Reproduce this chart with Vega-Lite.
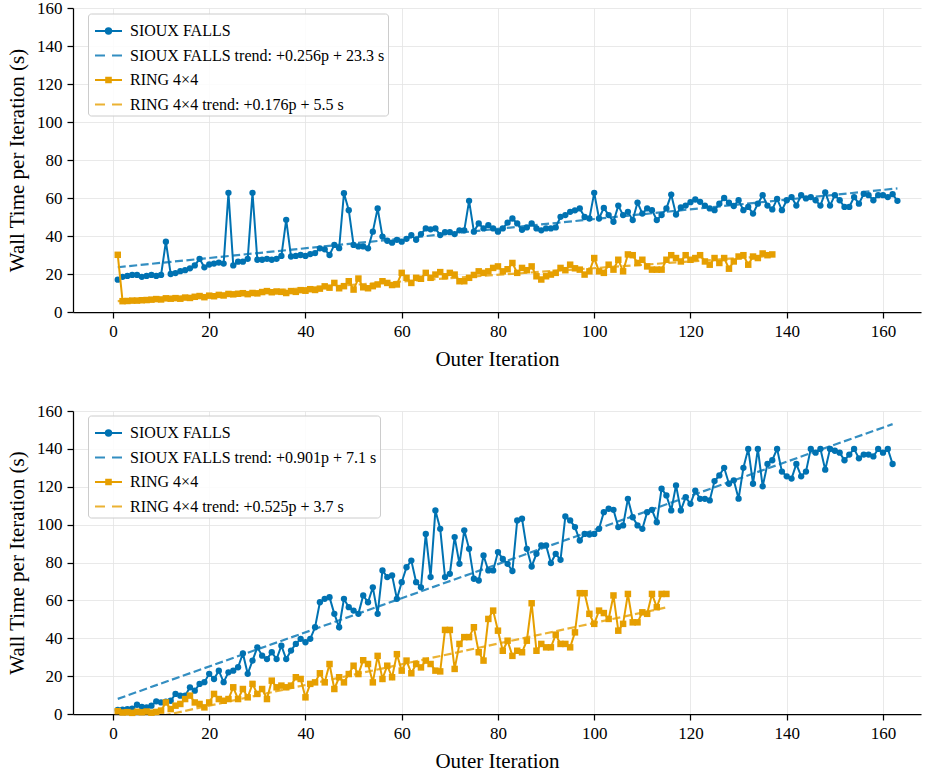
{
  "$schema": "https://vega.github.io/schema/vega-lite/v6.json",
  "padding": {"left": 6, "top": -1, "right": 10, "bottom": 2},
  "config": {
    "font": "'Liberation Serif', serif",
    "view": {"stroke": null},
    "text": {"font": "'Liberation Serif', serif"},
    "axis": {
      "labelFont": "'Liberation Serif', serif", "labelFontSize": 17, "labelColor": "#000000",
      "titleFont": "'Liberation Serif', serif", "titleFontSize": 21, "titleFontWeight": "normal", "titleColor": "#000000",
      "domainColor": "#000000", "domainWidth": 1.25, "tickColor": "#000000", "tickSize": 6, "tickWidth": 1.25,
      "gridColor": "#e3e3e3", "gridWidth": 0.8, "labelPadding": 5
    },
    "axisX": {"titlePadding": 9},
    "axisY": {"titlePadding": 9},
    "legend": {"labelFont": "'Liberation Serif', serif", "labelFontSize": 16, "labelColor": "#000000"}
  },
  "datasets": {
    "topSioux": [
      {"iter":1,"time":17},{"iter":2,"time":18.5},{"iter":3,"time":19},{"iter":4,"time":19.5},{"iter":5,"time":19.5},{"iter":6,"time":18.5},{"iter":7,"time":19},{"iter":8,"time":19.5},{"iter":9,"time":19},{"iter":10,"time":19.5},
      {"iter":11,"time":37},{"iter":12,"time":20},{"iter":13,"time":20.5},{"iter":14,"time":21.5},{"iter":15,"time":22},{"iter":16,"time":23},{"iter":17,"time":24.5},{"iter":18,"time":28},{"iter":19,"time":23.5},{"iter":20,"time":25},
      {"iter":21,"time":25.5},{"iter":22,"time":26},{"iter":23,"time":25.5},{"iter":24,"time":62.7},{"iter":25,"time":24.5},{"iter":26,"time":26.5},{"iter":27,"time":26.5},{"iter":28,"time":28},{"iter":29,"time":62.7},{"iter":30,"time":27.5},
      {"iter":31,"time":27.5},{"iter":32,"time":28},{"iter":33,"time":27.5},{"iter":34,"time":28},{"iter":35,"time":29.5},{"iter":36,"time":48.5},{"iter":37,"time":29.2},{"iter":38,"time":29.5},{"iter":39,"time":30},{"iter":40,"time":29.5},
      {"iter":41,"time":30.5},{"iter":42,"time":31},{"iter":43,"time":33.5},{"iter":44,"time":33},{"iter":45,"time":30},{"iter":46,"time":35.3},{"iter":47,"time":33.6},{"iter":48,"time":62.5},{"iter":49,"time":53.6},{"iter":50,"time":35.3},
      {"iter":51,"time":34.5},{"iter":52,"time":34.5},{"iter":53,"time":33.5},{"iter":54,"time":42.3},{"iter":55,"time":54.5},{"iter":56,"time":39.7},{"iter":57,"time":37.5},{"iter":58,"time":36.5},{"iter":59,"time":38},{"iter":60,"time":37},
      {"iter":61,"time":38.5},{"iter":62,"time":40.5},{"iter":63,"time":38},{"iter":64,"time":41},{"iter":65,"time":44},{"iter":66,"time":43.5},{"iter":67,"time":44},{"iter":68,"time":40.5},{"iter":69,"time":42},{"iter":70,"time":42},
      {"iter":71,"time":41},{"iter":72,"time":43},{"iter":73,"time":43},{"iter":74,"time":58.5},{"iter":75,"time":42.3},{"iter":76,"time":46.6},{"iter":77,"time":44},{"iter":78,"time":45.7},{"iter":79,"time":44},{"iter":80,"time":42.3},
      {"iter":81,"time":44},{"iter":82,"time":47},{"iter":83,"time":49.2},{"iter":84,"time":46.6},{"iter":85,"time":43.3},{"iter":86,"time":44.5},{"iter":87,"time":46.6},{"iter":88,"time":44},{"iter":89,"time":43},{"iter":90,"time":44},
      {"iter":91,"time":44},{"iter":92,"time":44.5},{"iter":93,"time":50.1},{"iter":94,"time":51},{"iter":95,"time":52.7},{"iter":96,"time":53.5},{"iter":97,"time":54.5},{"iter":98,"time":50},{"iter":99,"time":49.2},{"iter":100,"time":62.7},
      {"iter":101,"time":49.2},{"iter":102,"time":54.8},{"iter":103,"time":51},{"iter":104,"time":47.5},{"iter":105,"time":56},{"iter":106,"time":51},{"iter":107,"time":52.7},{"iter":108,"time":48.4},{"iter":109,"time":57.6},{"iter":110,"time":51.8},
      {"iter":111,"time":54.5},{"iter":112,"time":53.6},{"iter":113,"time":48.4},{"iter":114,"time":51},{"iter":115,"time":54.5},{"iter":116,"time":61.8},{"iter":117,"time":51.3},{"iter":118,"time":55},{"iter":119,"time":56},{"iter":120,"time":57.8},
      {"iter":121,"time":59.2},{"iter":122,"time":58},{"iter":123,"time":56},{"iter":124,"time":54.5},{"iter":125,"time":53.6},{"iter":126,"time":57},{"iter":127,"time":60},{"iter":128,"time":57.5},{"iter":129,"time":55.8},{"iter":130,"time":58.8},
      {"iter":131,"time":53.6},{"iter":132,"time":55.3},{"iter":133,"time":51.8},{"iter":134,"time":57},{"iter":135,"time":61.5},{"iter":136,"time":56},{"iter":137,"time":54},{"iter":138,"time":59.5},{"iter":139,"time":53.6},{"iter":140,"time":58.8},
      {"iter":141,"time":60.5},{"iter":142,"time":56},{"iter":143,"time":61.5},{"iter":144,"time":59.8},{"iter":145,"time":60.5},{"iter":146,"time":58.8},{"iter":147,"time":56},{"iter":148,"time":63},{"iter":149,"time":56},{"iter":150,"time":61.5},
      {"iter":151,"time":58.8},{"iter":152,"time":55.3},{"iter":153,"time":55.3},{"iter":154,"time":60.5},{"iter":155,"time":57},{"iter":156,"time":62.2},{"iter":157,"time":61.5},{"iter":158,"time":58.8},{"iter":159,"time":61.5},{"iter":160,"time":61.5},
      {"iter":161,"time":60.5},{"iter":162,"time":62},{"iter":163,"time":58.5}
    ],
    "topRing": [
      {"iter":1,"time":30.1},{"iter":2,"time":5.7},{"iter":3,"time":5.8},{"iter":4,"time":6},{"iter":5,"time":6},{"iter":6,"time":6.2},{"iter":7,"time":6.3},{"iter":8,"time":6.5},{"iter":9,"time":6.8},{"iter":10,"time":6.6},
      {"iter":11,"time":7.2},{"iter":12,"time":7},{"iter":13,"time":7.3},{"iter":14,"time":7},{"iter":15,"time":7.6},{"iter":16,"time":7.4},{"iter":17,"time":8},{"iter":18,"time":8.4},{"iter":19,"time":7.8},{"iter":20,"time":8.6},
      {"iter":21,"time":8.3},{"iter":22,"time":9},{"iter":23,"time":8.7},{"iter":24,"time":9.5},{"iter":25,"time":9.3},{"iter":26,"time":9.6},{"iter":27,"time":9.9},{"iter":28,"time":9.4},{"iter":29,"time":10},{"iter":30,"time":9.8},
      {"iter":31,"time":10.5},{"iter":32,"time":11},{"iter":33,"time":10.4},{"iter":34,"time":10.8},{"iter":35,"time":10.6},{"iter":36,"time":10},{"iter":37,"time":11},{"iter":38,"time":10.6},{"iter":39,"time":11.5},{"iter":40,"time":11.2},
      {"iter":41,"time":12},{"iter":42,"time":11.6},{"iter":43,"time":12.3},{"iter":44,"time":13.5},{"iter":45,"time":12.8},{"iter":46,"time":15.3},{"iter":47,"time":12.5},{"iter":48,"time":13.6},{"iter":49,"time":16.2},{"iter":50,"time":11.8},
      {"iter":51,"time":17.6},{"iter":52,"time":13},{"iter":53,"time":12.5},{"iter":54,"time":13.6},{"iter":55,"time":14.5},{"iter":56,"time":16.2},{"iter":57,"time":15.3},{"iter":58,"time":14.2},{"iter":59,"time":14.5},{"iter":60,"time":20.6},
      {"iter":61,"time":18},{"iter":62,"time":15.3},{"iter":63,"time":18},{"iter":64,"time":17.5},{"iter":65,"time":20.6},{"iter":66,"time":18},{"iter":67,"time":19.7},{"iter":68,"time":21},{"iter":69,"time":18.8},{"iter":70,"time":20.6},
      {"iter":71,"time":19.7},{"iter":72,"time":16.2},{"iter":73,"time":16.2},{"iter":74,"time":18},{"iter":75,"time":19.5},{"iter":76,"time":21.4},{"iter":77,"time":20.6},{"iter":78,"time":21.4},{"iter":79,"time":23.2},{"iter":80,"time":24},
      {"iter":81,"time":21.4},{"iter":82,"time":22.5},{"iter":83,"time":25.8},{"iter":84,"time":20.6},{"iter":85,"time":23.2},{"iter":86,"time":22},{"iter":87,"time":24},{"iter":88,"time":18.8},{"iter":89,"time":17.1},{"iter":90,"time":18.8},
      {"iter":91,"time":19.7},{"iter":92,"time":20.6},{"iter":93,"time":23.2},{"iter":94,"time":22},{"iter":95,"time":24.9},{"iter":96,"time":23},{"iter":97,"time":22.3},{"iter":98,"time":19.7},{"iter":99,"time":21.4},{"iter":100,"time":28.4},
      {"iter":101,"time":21.4},{"iter":102,"time":20.6},{"iter":103,"time":24.9},{"iter":104,"time":22.3},{"iter":105,"time":27.5},{"iter":106,"time":21.4},{"iter":107,"time":30.3},{"iter":108,"time":29.9},{"iter":109,"time":25.8},{"iter":110,"time":27.5},
      {"iter":111,"time":24},{"iter":112,"time":22.3},{"iter":113,"time":22.3},{"iter":114,"time":22.3},{"iter":115,"time":27.5},{"iter":116,"time":29.9},{"iter":117,"time":28.4},{"iter":118,"time":26.6},{"iter":119,"time":29.9},{"iter":120,"time":27.5},
      {"iter":121,"time":28.4},{"iter":122,"time":29.9},{"iter":123,"time":26.6},{"iter":124,"time":24.9},{"iter":125,"time":28.4},{"iter":126,"time":25.8},{"iter":127,"time":28.4},{"iter":128,"time":22.8},{"iter":129,"time":26.6},{"iter":130,"time":29.2},
      {"iter":131,"time":29.9},{"iter":132,"time":24.9},{"iter":133,"time":29.2},{"iter":134,"time":28.4},{"iter":135,"time":30.8},{"iter":136,"time":29.9},{"iter":137,"time":30.3}
    ],
    "topTrend": [
      {"series":"SIOUX FALLS trend: +0.256p + 23.3 s","iter":1,"time":23.56},
      {"series":"SIOUX FALLS trend: +0.256p + 23.3 s","iter":163,"time":65.03},
      {"series":"RING 4×4 trend: +0.176p + 5.5 s","iter":1,"time":5.68},
      {"series":"RING 4×4 trend: +0.176p + 5.5 s","iter":137,"time":29.61}
    ],
    "botSioux": [
      {"iter":1,"time":2.1},{"iter":2,"time":2.3},{"iter":3,"time":2.5},{"iter":4,"time":2.8},{"iter":5,"time":4.9},{"iter":6,"time":3.8},{"iter":7,"time":3.5},{"iter":8,"time":4.4},{"iter":9,"time":6.7},{"iter":10,"time":6.1},
      {"iter":11,"time":6.5},{"iter":12,"time":7},{"iter":13,"time":10.6},{"iter":14,"time":9.7},{"iter":15,"time":9.7},{"iter":16,"time":14.1},{"iter":17,"time":12.3},{"iter":18,"time":15.9},{"iter":19,"time":16.8},{"iter":20,"time":21.2},
      {"iter":21,"time":18.5},{"iter":22,"time":22.9},{"iter":23,"time":16.8},{"iter":24,"time":22},{"iter":25,"time":22.9},{"iter":26,"time":24.7},{"iter":27,"time":32},{"iter":28,"time":21.2},{"iter":29,"time":28.2},{"iter":30,"time":35.2},
      {"iter":31,"time":30.8},{"iter":32,"time":29},{"iter":33,"time":32.6},{"iter":34,"time":29},{"iter":35,"time":36.1},{"iter":36,"time":29},{"iter":37,"time":33.5},{"iter":38,"time":37},{"iter":39,"time":39.7},{"iter":40,"time":37.9},
      {"iter":41,"time":39.7},{"iter":42,"time":45.8},{"iter":43,"time":59},{"iter":44,"time":60.8},{"iter":45,"time":61.7},{"iter":46,"time":52.9},{"iter":47,"time":45.8},{"iter":48,"time":60.8},{"iter":49,"time":56.4},{"iter":50,"time":54.6},
      {"iter":51,"time":52.9},{"iter":52,"time":62.6},{"iter":53,"time":59},{"iter":54,"time":66.9},{"iter":55,"time":52.9},{"iter":56,"time":75.8},{"iter":57,"time":72.3},{"iter":58,"time":73.2},{"iter":59,"time":60.8},{"iter":60,"time":69.6},
      {"iter":61,"time":77.5},{"iter":62,"time":81},{"iter":63,"time":69.6},{"iter":64,"time":66.9},{"iter":65,"time":95.1},{"iter":66,"time":72.3},{"iter":67,"time":107.5},{"iter":68,"time":97.8},{"iter":69,"time":72.3},{"iter":70,"time":74},
      {"iter":71,"time":93.4},{"iter":72,"time":79.3},{"iter":73,"time":97},{"iter":74,"time":87.2},{"iter":75,"time":71.4},{"iter":76,"time":70.5},{"iter":77,"time":83.7},{"iter":78,"time":75.8},{"iter":79,"time":75.8},{"iter":80,"time":85.5},
      {"iter":81,"time":81.9},{"iter":82,"time":79.3},{"iter":83,"time":75.5},{"iter":84,"time":102.2},{"iter":85,"time":103.1},{"iter":86,"time":87.2},{"iter":87,"time":77.9},{"iter":88,"time":84.6},{"iter":89,"time":89},{"iter":90,"time":89},
      {"iter":91,"time":79.7},{"iter":92,"time":84.6},{"iter":93,"time":81.4},{"iter":94,"time":104.3},{"iter":95,"time":102.2},{"iter":96,"time":98.7},{"iter":97,"time":91.6},{"iter":98,"time":95.1},{"iter":99,"time":94.8},{"iter":100,"time":95.1},
      {"iter":101,"time":97.8},{"iter":102,"time":106.6},{"iter":103,"time":108.4},{"iter":104,"time":107.8},{"iter":105,"time":98.7},{"iter":106,"time":99.6},{"iter":107,"time":113.6},{"iter":108,"time":103.9},{"iter":109,"time":99.6},{"iter":110,"time":97.8},
      {"iter":111,"time":106.6},{"iter":112,"time":107.8},{"iter":113,"time":101.3},{"iter":114,"time":119},{"iter":115,"time":115.4},{"iter":116,"time":107.5},{"iter":117,"time":120.7},{"iter":118,"time":107.5},{"iter":119,"time":114.5},{"iter":120,"time":111},
      {"iter":121,"time":118},{"iter":122,"time":113.6},{"iter":123,"time":113.6},{"iter":124,"time":112.8},{"iter":125,"time":123},{"iter":126,"time":126},{"iter":127,"time":130},{"iter":128,"time":121.6},{"iter":129,"time":123.4},{"iter":130,"time":113.7},
      {"iter":131,"time":130},{"iter":132,"time":140},{"iter":133,"time":121.6},{"iter":134,"time":140},{"iter":135,"time":120.2},{"iter":136,"time":132},{"iter":137,"time":134},{"iter":138,"time":140},{"iter":139,"time":128},{"iter":140,"time":125.5},
      {"iter":141,"time":124.3},{"iter":142,"time":132},{"iter":143,"time":125.5},{"iter":144,"time":128},{"iter":145,"time":140},{"iter":146,"time":138},{"iter":147,"time":140},{"iter":148,"time":129},{"iter":149,"time":140},{"iter":150,"time":139},
      {"iter":151,"time":138},{"iter":152,"time":134},{"iter":153,"time":137},{"iter":154,"time":140},{"iter":155,"time":135},{"iter":156,"time":137},{"iter":157,"time":137},{"iter":158,"time":136},{"iter":159,"time":140},{"iter":160,"time":138},
      {"iter":161,"time":140},{"iter":162,"time":132}
    ],
    "botRing": [
      {"iter":1,"time":1.5},{"iter":2,"time":0.8},{"iter":3,"time":1},{"iter":4,"time":0.6},{"iter":5,"time":1.2},{"iter":6,"time":0.9},{"iter":7,"time":1.3},{"iter":8,"time":0.7},{"iter":9,"time":1.1},{"iter":10,"time":1.8},
      {"iter":11,"time":6.1},{"iter":12,"time":2.6},{"iter":13,"time":4.4},{"iter":14,"time":5.3},{"iter":15,"time":7.9},{"iter":16,"time":9.7},{"iter":17,"time":6.1},{"iter":18,"time":5.3},{"iter":19,"time":3.5},{"iter":20,"time":6.1},
      {"iter":21,"time":10.6},{"iter":22,"time":7.9},{"iter":23,"time":7},{"iter":24,"time":7.9},{"iter":25,"time":14.1},{"iter":26,"time":7.9},{"iter":27,"time":13.2},{"iter":28,"time":8.8},{"iter":29,"time":15.9},{"iter":30,"time":10.6},
      {"iter":31,"time":13.2},{"iter":32,"time":7.9},{"iter":33,"time":17.6},{"iter":34,"time":14.1},{"iter":35,"time":15},{"iter":36,"time":14.1},{"iter":37,"time":15},{"iter":38,"time":19.4},{"iter":39,"time":18.5},{"iter":40,"time":8.8},
      {"iter":41,"time":15.9},{"iter":42,"time":16.7},{"iter":43,"time":21.5},{"iter":44,"time":16.7},{"iter":45,"time":26.4},{"iter":46,"time":13.2},{"iter":47,"time":19.4},{"iter":48,"time":16.7},{"iter":49,"time":21.1},{"iter":50,"time":25.5},
      {"iter":51,"time":21.1},{"iter":52,"time":28.4},{"iter":53,"time":26.4},{"iter":54,"time":16.7},{"iter":55,"time":30.7},{"iter":56,"time":18.5},{"iter":57,"time":25.5},{"iter":58,"time":19.4},{"iter":59,"time":31.6},{"iter":60,"time":22.9},
      {"iter":61,"time":28.2},{"iter":62,"time":21.5},{"iter":63,"time":26.4},{"iter":64,"time":24.6},{"iter":65,"time":28.2},{"iter":66,"time":26.4},{"iter":67,"time":22.9},{"iter":68,"time":22.5},{"iter":69,"time":44.4},{"iter":70,"time":44.4},
      {"iter":71,"time":23.8},{"iter":72,"time":37},{"iter":73,"time":40.6},{"iter":74,"time":40.6},{"iter":75,"time":45.8},{"iter":76,"time":32.6},{"iter":77,"time":28.2},{"iter":78,"time":50.2},{"iter":79,"time":54.6},{"iter":80,"time":44},
      {"iter":81,"time":33.4},{"iter":82,"time":38.7},{"iter":83,"time":30.7},{"iter":84,"time":33.4},{"iter":85,"time":32.6},{"iter":86,"time":38.7},{"iter":87,"time":58.5},{"iter":88,"time":33.4},{"iter":89,"time":37},{"iter":90,"time":35.2},
      {"iter":91,"time":35.2},{"iter":92,"time":41.9},{"iter":93,"time":37},{"iter":94,"time":37},{"iter":95,"time":35.2},{"iter":96,"time":43.1},{"iter":97,"time":63.8},{"iter":98,"time":63.8},{"iter":99,"time":52.9},{"iter":100,"time":47.6},
      {"iter":101,"time":54.6},{"iter":102,"time":53.3},{"iter":103,"time":50.2},{"iter":104,"time":62.6},{"iter":105,"time":44},{"iter":106,"time":47.6},{"iter":107,"time":63.4},{"iter":108,"time":48.4},{"iter":109,"time":48.4},{"iter":110,"time":53.7},
      {"iter":111,"time":52.9},{"iter":112,"time":63.4},{"iter":113,"time":56.4},{"iter":114,"time":63.4},{"iter":115,"time":63.4}
    ],
    "botTrend": [
      {"series":"SIOUX FALLS trend: +0.901p + 7.1 s","iter":1,"time":8.0},
      {"series":"SIOUX FALLS trend: +0.901p + 7.1 s","iter":162,"time":153.06},
      {"series":"RING 4×4 trend: +0.525p + 3.7 s","iter":1,"time":-6.0},
      {"series":"RING 4×4 trend: +0.525p + 3.7 s","iter":115,"time":56.3}
    ]
  },
  "vconcat": [
    {
      "width": 848,
      "height": 304,
      "encoding": {
        "x": {"field": "iter", "type": "quantitative", "scale": {"domain": [-8.3, 167.9], "nice": false, "zero": false}, "axis": {"values": [0, 20, 40, 60, 80, 100, 120, 140, 160], "title": "Outer Iteration"}},
        "y": {"field": "time", "type": "quantitative", "scale": {"domain": [0, 160], "nice": false}, "axis": {"values": [0, 20, 40, 60, 80, 100, 120, 140, 160], "title": "Wall Time per Iteration (s)"}}
      },
      "layer": [
        {"data": {"name": "topSioux"}, "mark": {"type": "line", "color": "#0072b2", "strokeWidth": 2}},
        {"data": {"name": "topSioux"}, "mark": {"type": "point", "shape": "circle", "filled": true, "color": "#0072b2", "size": 40, "opacity": 1}},
        {"data": {"name": "topTrend"}, "transform": [{"filter": {"field": "series", "equal": "SIOUX FALLS trend: +0.256p + 23.3 s"}}], "mark": {"type": "line", "color": "#0072b2", "opacity": 0.8, "strokeWidth": 2.2, "strokeDash": [8, 3.5], "clip": true}},
        {"data": {"name": "topRing"}, "mark": {"type": "line", "color": "#e69f00", "strokeWidth": 2}},
        {"data": {"name": "topRing"}, "mark": {"type": "point", "shape": "square", "filled": true, "color": "#e69f00", "size": 42, "opacity": 1}},
        {"data": {"name": "topTrend"}, "transform": [{"filter": {"field": "series", "equal": "RING 4×4 trend: +0.176p + 5.5 s"}}], "mark": {"type": "line", "color": "#e69f00", "opacity": 0.8, "strokeWidth": 2.2, "strokeDash": [8, 3.5], "clip": true}},
        {
          "data": {"values": []},
          "mark": {"type": "point", "filled": true, "opacity": 1},
          "encoding": {
            "fill": {"field": "series", "type": "nominal",
              "scale": {"domain": ["SIOUX FALLS", "SIOUX FALLS trend: +0.256p + 23.3 s", "RING 4×4", "RING 4×4 trend: +0.176p + 5.5 s"], "range": ["#0072b2", "#338ec1", "#e69f00", "#ebb233"]},
              "legend": {"title": null, "orient": "none", "legendX": 15, "legendY": 5.5, "fillColor": "rgba(255,255,255,0.85)", "strokeColor": "#cccccc", "cornerRadius": 3, "padding": 3, "symbolOffset": 3, "symbolSize": 729, "symbolStrokeWidth": 2, "labelFont": "'Liberation Serif', serif", "labelFontSize": 16, "labelColor": "#000000", "labelLimit": 0, "labelOffset": 7, "rowPadding": 1.5}},
            "stroke": {"field": "series", "type": "nominal",
              "scale": {"domain": ["SIOUX FALLS", "SIOUX FALLS trend: +0.256p + 23.3 s", "RING 4×4", "RING 4×4 trend: +0.176p + 5.5 s"], "range": ["#0072b2", "#338ec1", "#e69f00", "#ebb233"]},
              "legend": {"title": null, "orient": "none", "legendX": 15, "legendY": 5.5, "fillColor": "rgba(255,255,255,0.85)", "strokeColor": "#cccccc", "cornerRadius": 3, "padding": 3, "symbolOffset": 3, "symbolSize": 729, "symbolStrokeWidth": 2, "labelFont": "'Liberation Serif', serif", "labelFontSize": 16, "labelColor": "#000000", "labelLimit": 0, "labelOffset": 7, "rowPadding": 1.5}},
            "shape": {"field": "series", "type": "nominal",
              "scale": {"domain": ["SIOUX FALLS", "SIOUX FALLS trend: +0.256p + 23.3 s", "RING 4×4", "RING 4×4 trend: +0.176p + 5.5 s"], "range": ["M-1,0H1M0.2,0A0.2,0.2,0,1,1,-0.2,0A0.2,0.2,0,1,1,0.2,0Z", "M-1,0H-0.26M0.26,0H1", "M-1,0H1M-0.17,-0.17H0.17V0.17H-0.17Z", "M-1,0H-0.26M0.26,0H1"]},
              "legend": {"title": null, "orient": "none", "legendX": 15, "legendY": 5.5, "fillColor": "rgba(255,255,255,0.85)", "strokeColor": "#cccccc", "cornerRadius": 3, "padding": 3, "symbolOffset": 3, "symbolSize": 729, "symbolStrokeWidth": 2, "labelFont": "'Liberation Serif', serif", "labelFontSize": 16, "labelColor": "#000000", "labelLimit": 0, "labelOffset": 7, "rowPadding": 1.5}}
          }
        }
      ]
    },
    {
      "width": 848,
      "height": 303,
      "encoding": {
        "x": {"field": "iter", "type": "quantitative", "scale": {"domain": [-8.3, 167.9], "nice": false, "zero": false}, "axis": {"values": [0, 20, 40, 60, 80, 100, 120, 140, 160], "title": "Outer Iteration"}},
        "y": {"field": "time", "type": "quantitative", "scale": {"domain": [0, 160], "nice": false}, "axis": {"values": [0, 20, 40, 60, 80, 100, 120, 140, 160], "title": "Wall Time per Iteration (s)"}}
      },
      "layer": [
        {"data": {"name": "botSioux"}, "mark": {"type": "line", "color": "#0072b2", "strokeWidth": 2}},
        {"data": {"name": "botSioux"}, "mark": {"type": "point", "shape": "circle", "filled": true, "color": "#0072b2", "size": 40, "opacity": 1}},
        {"data": {"name": "botTrend"}, "transform": [{"filter": {"field": "series", "equal": "SIOUX FALLS trend: +0.901p + 7.1 s"}}], "mark": {"type": "line", "color": "#0072b2", "opacity": 0.8, "strokeWidth": 2.2, "strokeDash": [8, 3.5], "clip": true}},
        {"data": {"name": "botRing"}, "mark": {"type": "line", "color": "#e69f00", "strokeWidth": 2}},
        {"data": {"name": "botRing"}, "mark": {"type": "point", "shape": "square", "filled": true, "color": "#e69f00", "size": 42, "opacity": 1}},
        {"data": {"name": "botTrend"}, "transform": [{"filter": {"field": "series", "equal": "RING 4×4 trend: +0.525p + 3.7 s"}}], "mark": {"type": "line", "color": "#e69f00", "opacity": 0.8, "strokeWidth": 2.2, "strokeDash": [8, 3.5], "clip": true}},
        {
          "data": {"values": []},
          "mark": {"type": "point", "filled": true, "opacity": 1},
          "encoding": {
            "fill": {"field": "series", "type": "nominal",
              "scale": {"domain": ["SIOUX FALLS", "SIOUX FALLS trend: +0.901p + 7.1 s", "RING 4×4", "RING 4×4 trend: +0.525p + 3.7 s"], "range": ["#0072b2", "#338ec1", "#e69f00", "#ebb233"]},
              "legend": {"title": null, "orient": "none", "legendX": 15, "legendY": 4.5, "fillColor": "rgba(255,255,255,0.85)", "strokeColor": "#cccccc", "cornerRadius": 3, "padding": 3, "symbolOffset": 3, "symbolSize": 729, "symbolStrokeWidth": 2, "labelFont": "'Liberation Serif', serif", "labelFontSize": 16, "labelColor": "#000000", "labelLimit": 0, "labelOffset": 7, "rowPadding": 1.5}},
            "stroke": {"field": "series", "type": "nominal",
              "scale": {"domain": ["SIOUX FALLS", "SIOUX FALLS trend: +0.901p + 7.1 s", "RING 4×4", "RING 4×4 trend: +0.525p + 3.7 s"], "range": ["#0072b2", "#338ec1", "#e69f00", "#ebb233"]},
              "legend": {"title": null, "orient": "none", "legendX": 15, "legendY": 4.5, "fillColor": "rgba(255,255,255,0.85)", "strokeColor": "#cccccc", "cornerRadius": 3, "padding": 3, "symbolOffset": 3, "symbolSize": 729, "symbolStrokeWidth": 2, "labelFont": "'Liberation Serif', serif", "labelFontSize": 16, "labelColor": "#000000", "labelLimit": 0, "labelOffset": 7, "rowPadding": 1.5}},
            "shape": {"field": "series", "type": "nominal",
              "scale": {"domain": ["SIOUX FALLS", "SIOUX FALLS trend: +0.901p + 7.1 s", "RING 4×4", "RING 4×4 trend: +0.525p + 3.7 s"], "range": ["M-1,0H1M0.2,0A0.2,0.2,0,1,1,-0.2,0A0.2,0.2,0,1,1,0.2,0Z", "M-1,0H-0.26M0.26,0H1", "M-1,0H1M-0.17,-0.17H0.17V0.17H-0.17Z", "M-1,0H-0.26M0.26,0H1"]},
              "legend": {"title": null, "orient": "none", "legendX": 15, "legendY": 4.5, "fillColor": "rgba(255,255,255,0.85)", "strokeColor": "#cccccc", "cornerRadius": 3, "padding": 3, "symbolOffset": 3, "symbolSize": 729, "symbolStrokeWidth": 2, "labelFont": "'Liberation Serif', serif", "labelFontSize": 16, "labelColor": "#000000", "labelLimit": 0, "labelOffset": 7, "rowPadding": 1.5}}
          }
        }
      ]
    }
  ],
  "spacing": 33,
  "resolve": {
    "scale": {"fill": "independent", "stroke": "independent", "shape": "independent"},
    "legend": {"fill": "independent", "stroke": "independent", "shape": "independent"}
  }
}
